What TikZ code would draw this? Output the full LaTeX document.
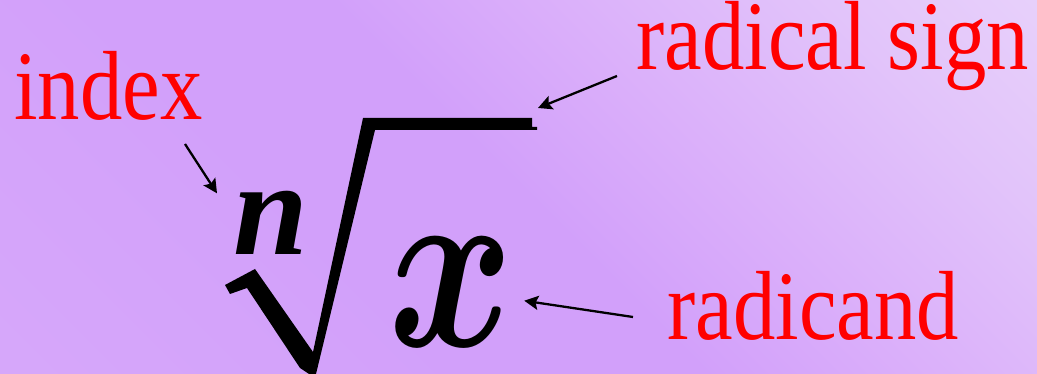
\documentclass[tikz,border=0pt]{standalone}
\usepackage{fix-cm}
\usepackage{graphicx}
\usepackage{fontspec}
\setmainfont{Liberation Serif}
\usetikzlibrary{arrows.meta,calc}
\definecolor{lilacsoft}{HTML}{D9ACFA}
\definecolor{lilacdark}{HTML}{D2A0FA}
\definecolor{lilacmid}{HTML}{DAAEFA}
\definecolor{lilacpale}{HTML}{E2C4FA}
\definecolor{lilaclight}{HTML}{EFE1FC}
\definecolor{labelred}{HTML}{FF0000}
\pgfdeclareverticalshading{lilacfade}{100bp}{color(0bp)=(lilacsoft); color(38bp)=(lilacdark);
  color(50bp)=(lilacdark); color(60bp)=(lilacmid); color(75bp)=(lilacpale); color(100bp)=(lilaclight)}
\newcommand{\tallword}[1]{\scalebox{1}[1.16]{#1}}

\begin{document}
\begin{tikzpicture}[
  x=0.02cm, y=-0.02cm,
  tag/.style={inner sep=0pt, anchor=base west, text=labelred, font=\fontsize{48.2pt}{50pt}\selectfont},
  symb/.style={inner sep=0pt, anchor=base west},
  pointer/.style={-{Stealth[length=8pt,width=8pt,inset=1.5pt]}, line width=1.3pt}
]
\useasboundingbox (0,0) rectangle (1037,374);
\shade[shading=lilacfade, shading angle=-45] (0,0) rectangle (1037,374);

% the radical sign itself
\fill[black] (225,285) -- (255,269) -- (313,352) -- (363,118) -- (532,118) -- (532,127)
  -- (537,127) -- (537,130) -- (375,130) -- (316,374) -- (309,374) -- (300,368)
  -- (247,288) -- (230,294) -- cycle;
\coordinate (bar) at (538,108);

\node[symb, font=\fontsize{76.5pt}{78pt}\bfseries\itshape\selectfont] (n) at (233,255) {n};
\node[symb, font=\fontsize{139pt}{141pt}\selectfont] (x) at (388,347) {\scalebox{0.78}[1]{\boldmath$x$}};

\node[tag] (index) at (14,120) {\tallword{index}};
\node[tag] (radsign) at (636,70) {\tallword{radical sign}};
\node[tag] (radicand) at (667,340) {\tallword{radicand}};

\coordinate (index-tail) at (185,144);
\coordinate (sign-tail) at (617,76);
\coordinate (cand-tail) at (633,317);

\draw[pointer] (index-tail) -- ($(n.north west)+(-16,2)$);
\draw[pointer] (sign-tail) -- (bar);
\draw[pointer] (cand-tail) -- ($(x.east)+(10,8)$);

\end{tikzpicture}
\end{document}
